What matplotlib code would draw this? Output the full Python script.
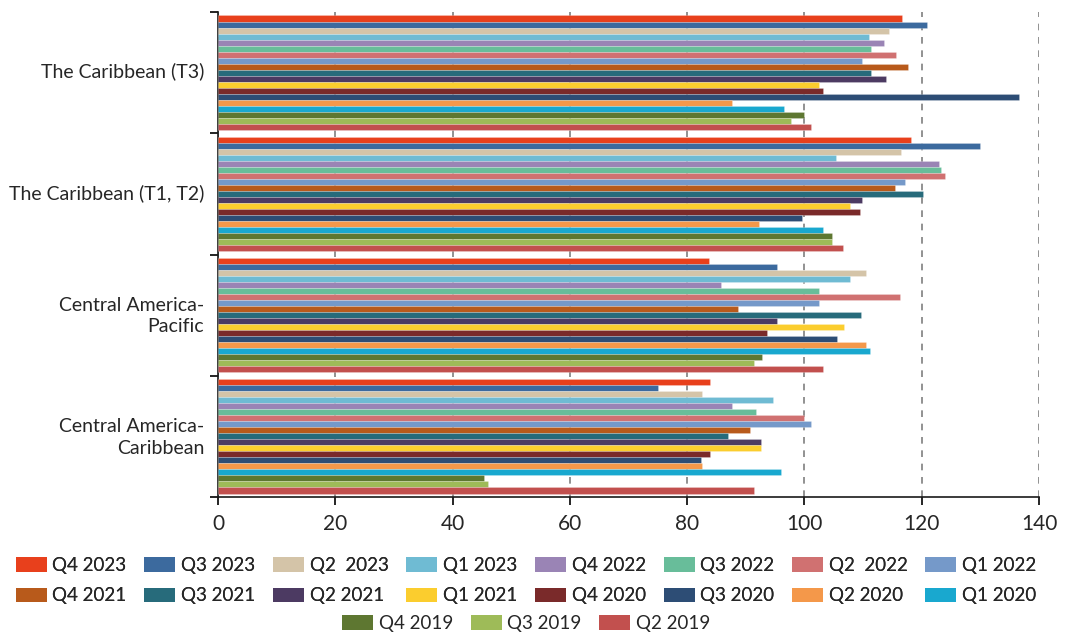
import matplotlib
matplotlib.use("Agg")
import matplotlib.pyplot as plt
from matplotlib.patches import Patch
import numpy as np

categories = ["The Caribbean (T3)", "The Caribbean (T1, T2)",
              "Central America-\nPacific", "Central America-\nCaribbean"]

series = ["Q4 2023", "Q3 2023", "Q2  2023", "Q1 2023", "Q4 2022", "Q3 2022",
          "Q2  2022", "Q1 2022", "Q4 2021", "Q3 2021", "Q2 2021", "Q1 2021",
          "Q4 2020", "Q3 2020", "Q2 2020", "Q1 2020", "Q4 2019", "Q3 2019",
          "Q2 2019"]

colors = ["#E8401C", "#3C6A9E", "#D4C4A8", "#6FBBD3", "#9A84B5", "#68BD9A",
          "#D07171", "#7599C9", "#B85A1B", "#276B7B", "#4C3A62", "#FBCD2E",
          "#7A2A2A", "#2D4D75", "#F4984A", "#19A8CF", "#5E7731", "#9EBB58",
          "#C2504E"]

# values per series: [Caribbean T3, Caribbean T1/T2, CA-Pacific, CA-Caribbean]
q4_2023 = [116.7, 118.2, 83.8, 83.9]
q3_2023 = [120.9, 130.0, 95.4, 75.0]
q2_2023 = [114.4, 116.5, 110.5, 82.6]
q1_2023 = [111.0, 105.3, 107.7, 94.7]
q4_2022 = [113.5, 123.0, 85.8, 87.7]
q3_2022 = [111.3, 123.3, 102.4, 91.8]
q2_2022 = [115.6, 124.0, 116.3, 100.0]
q1_2022 = [109.8, 117.2, 102.4, 101.2]
q4_2021 = [117.7, 115.5, 88.6, 90.7]
q3_2021 = [111.3, 120.3, 109.7, 86.9]
q2_2021 = [113.9, 109.8, 95.4, 92.6]
q1_2021 = [102.5, 107.8, 106.8, 92.6]
q4_2020 = [103.1, 109.5, 93.7, 83.9]
q3_2020 = [136.6, 99.6, 105.6, 82.4]
q2_2020 = [87.7, 92.3, 110.5, 82.6]
q1_2020 = [96.6, 103.1, 111.1, 96.0]
q4_2019 = [100.0, 104.7, 92.8, 45.3]
q3_2019 = [97.7, 104.7, 91.4, 46.0]
q2_2019 = [101.2, 106.6, 103.2, 91.4]

values = [q4_2023, q3_2023, q2_2023, q1_2023, q4_2022, q3_2022, q2_2022,
          q1_2022, q4_2021, q3_2021, q2_2021, q1_2021, q4_2020, q3_2020,
          q2_2020, q1_2020, q4_2019, q3_2019, q2_2019]

plt.rcParams['font.family'] = ['Lato', 'DejaVu Sans']

fig = plt.figure(figsize=(10.71, 6.37), dpi=100)
ax = fig.add_axes([218/1071, 1-497/637, (1039-218)/1071, (497-12)/637])

n = len(series)
bh = 0.0496
y = np.arange(len(categories))
for i, (name, vals, c) in enumerate(zip(series, values, colors)):
    off = (i - (n - 1) / 2) * bh
    ax.barh(y + off, vals, height=bh, color=c, edgecolor=(1, 1, 1, 0.35),
            linewidth=0.4, label=name, zorder=3)

ax.set_ylim(3.5, -0.5)
ax.set_xlim(0, 140)
ax.set_xticks(np.arange(0, 141, 20))
ax.set_yticks(y - 0.02)
ax.set_yticklabels(categories, fontsize=14, color="#262626", ha="right",
                   linespacing=1.3)
ax.set_yticks(np.arange(-0.5, 3.6, 1), minor=True)
ax.tick_params(axis='y', which='major', length=0, pad=10)
ax.tick_params(axis='y', which='minor', length=6, width=1.2, direction='out')
ax.tick_params(axis='x', which='major', length=6, width=1.2, direction='out',
               labelsize=15, labelcolor="#262626", pad=6)
ax.grid(axis='x', color='#7f7f7f', linestyle=(0, (4, 4)), linewidth=1.2, zorder=0)
for s in ['top', 'right']:
    ax.spines[s].set_visible(False)
for s in ['left', 'bottom']:
    ax.spines[s].set_linewidth(1.2)
    ax.spines[s].set_color('#1a1a1a')

handles = [Patch(facecolor=c, label=s) for s, c in zip(series, colors)]
first = handles[:16]
order = []
for j in range(8):
    order += [first[j], first[8 + j]]
legkw = dict(frameon=False, fontsize=13.5, handlelength=1.65, handleheight=0.85,
             handletextpad=0.3, columnspacing=0.95, labelspacing=0.72,
             borderpad=0, borderaxespad=0, labelcolor="#262626")
leg1 = fig.legend(handles=order, loc='upper center', ncol=8,
                  bbox_to_anchor=(526/1071, 1-557/637), **legkw)
leg2 = fig.legend(handles=handles[16:], loc='upper center', ncol=3,
                  bbox_to_anchor=(526/1071, 1-615/637), **legkw)
fig.add_artist(leg1)

fig.savefig("out.png", dpi=100)
